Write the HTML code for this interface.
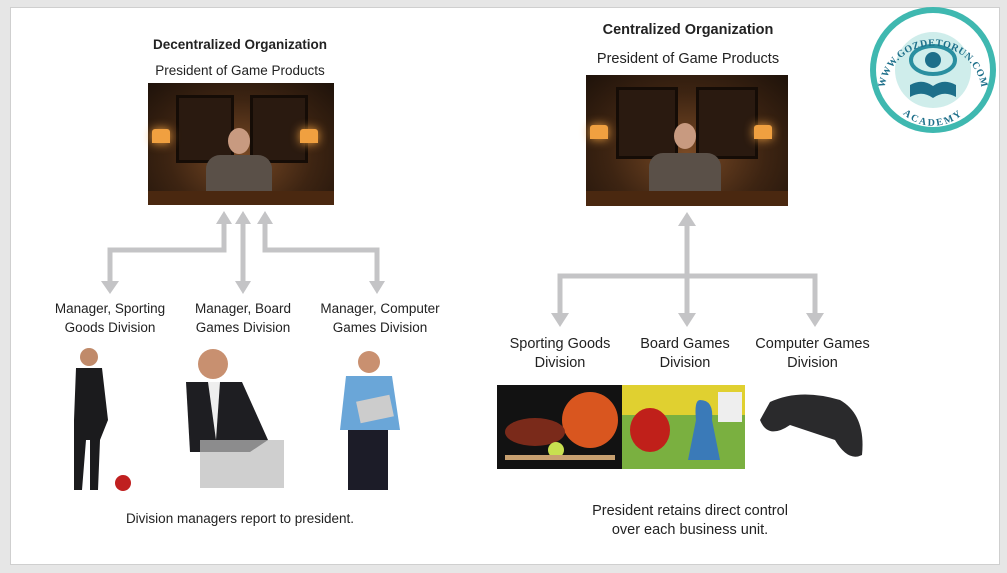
<!DOCTYPE html>
<html><head><style>
body{margin:0;width:1007px;height:573px;background:#e6e6e6;position:relative;overflow:hidden;font-family:"Liberation Sans",sans-serif;}
.panel{position:absolute;left:10px;top:7px;width:988px;height:556px;background:#fff;border:1px solid #cfcfcf;}
.t{position:absolute;color:#222;font-size:13.5px;text-align:center;line-height:19px;}
.b{font-weight:bold;}
.photo{position:absolute;background:radial-gradient(ellipse at 50% 60%,#7a4a25 0%,#3d2412 55%,#1e120a 100%);}
.frame{position:absolute;background:#2a1a10;border:3px solid #150c06;}
.lamp{position:absolute;width:18px;height:14px;background:#f0a040;border-radius:3px 3px 0 0;box-shadow:0 0 10px #f0a040;}
.face{position:absolute;width:22px;height:26px;border-radius:50%;background:#c89a80;}
.body{position:absolute;background:#5a5048;border-radius:14px 14px 0 0;}
</style></head><body>
<div class="panel"></div>

<div class="t b" style="left:140px;top:35px;width:200px;">Decentralized Organization</div>
<div class="t" style="left:140px;top:61px;width:200px;">President of Game Products</div>
<div class="t b" style="left:578px;top:21px;width:220px;font-size:14.5px;">Centralized Organization</div>
<div class="t" style="left:578px;top:50px;width:220px;font-size:14.5px;">President of Game Products</div>

<div class="photo" style="left:148px;top:83px;width:186px;height:122px;">
 <div class="frame" style="left:28px;top:12px;width:52px;height:62px;"></div>
 <div class="frame" style="left:102px;top:12px;width:52px;height:62px;"></div>
 <div class="lamp" style="left:4px;top:46px;"></div><div class="lamp" style="left:152px;top:46px;"></div>
 <div class="face" style="left:80px;top:45px;"></div>
 <div class="body" style="left:58px;top:72px;width:66px;height:40px;"></div>
 <div style="position:absolute;left:0;top:108px;width:186px;height:14px;background:#4a2810;"></div>
</div>
<div class="photo" style="left:586px;top:75px;width:202px;height:131px;">
 <div class="frame" style="left:30px;top:12px;width:56px;height:66px;"></div>
 <div class="frame" style="left:110px;top:12px;width:56px;height:66px;"></div>
 <div class="lamp" style="left:4px;top:50px;"></div><div class="lamp" style="left:168px;top:50px;"></div>
 <div class="face" style="left:88px;top:48px;"></div>
 <div class="body" style="left:63px;top:78px;width:72px;height:42px;"></div>
 <div style="position:absolute;left:0;top:116px;width:202px;height:15px;background:#4a2810;"></div>
</div>

<svg style="position:absolute;left:0;top:0" width="1007" height="573">
 <defs>
  <path id="arcTop" d="M885,85 A49,49 0 0 1 981,85"/>
  <path id="arcBot" d="M893,100 A44,44 0 0 0 973,100"/>
 </defs>
 <g fill="none" stroke="#c4c4c6" stroke-width="5">
  <polyline points="224,222 224,250 110,250 110,285"/>
  <line x1="243" y1="222" x2="243" y2="284"/>
  <polyline points="265,222 265,250 377,250 377,285"/>
  <line x1="687" y1="222" x2="687" y2="318"/>
  <polyline points="560,318 560,276 815,276 815,318"/>
 </g>
 <g fill="#c4c4c6">
  <polygon points="216,224 224,211 232,224"/><polygon points="235,224 243,211 251,224"/><polygon points="257,224 265,211 273,224"/>
  <polygon points="101,281 110,294 119,281"/><polygon points="235,281 243,294 251,281"/><polygon points="369,281 377,294 385,281"/>
  <polygon points="678,226 687,212 696,226"/>
  <polygon points="551,313 560,327 569,313"/><polygon points="678,313 687,327 696,313"/><polygon points="806,313 815,327 824,313"/>
 </g>
 <g>
  <circle cx="89" cy="357" r="9" fill="#c08a6a"/>
  <path d="M76,368 L102,368 L108,420 L100,440 L98,490 L90,490 L90,440 L86,440 L82,490 L74,490 L74,420 Z" fill="#1b1b1d"/>
  <circle cx="123" cy="483" r="8" fill="#c02020"/>
  <circle cx="213" cy="364" r="15" fill="#c89070"/>
  <path d="M186,382 L242,382 L268,440 L250,452 L190,452 Z" fill="#1e1e22"/>
  <path d="M208,382 L220,382 L216,440 Z" fill="#eee"/>
  <rect x="200" y="440" width="84" height="48" fill="#bbb" opacity=".7"/>
  <circle cx="369" cy="362" r="11" fill="#c99070"/>
  <path d="M346,376 L392,376 L400,430 L340,430 Z" fill="#6aa6d8"/>
  <rect x="358" y="398" width="34" height="22" fill="#ccc" transform="rotate(-12 375 409)"/>
  <rect x="348" y="430" width="40" height="60" fill="#1c1c28"/>
 </g>
 <rect x="497" y="385" width="125" height="84" fill="#121212"/>
 <circle cx="590" cy="420" r="28" fill="#d9561f"/>
 <ellipse cx="535" cy="432" rx="30" ry="14" fill="#7a2a1a"/>
 <circle cx="556" cy="450" r="8" fill="#c8e050"/>
 <rect x="505" y="455" width="110" height="5" fill="#c8a070"/>
 <rect x="622" y="385" width="123" height="84" fill="#7ab040"/>
 <rect x="622" y="385" width="123" height="30" fill="#e0d030"/>
 <ellipse cx="650" cy="430" rx="20" ry="22" fill="#c0201a"/>
 <path d="M700,400 Q714,400 712,420 L720,460 L688,460 L696,420 Q694,400 700,400Z" fill="#3a7ab8"/>
 <rect x="718" y="392" width="24" height="30" fill="#eee"/>
 <path d="M770,402 Q800,388 840,400 Q866,415 862,455 Q848,462 835,440 L790,425 Q768,440 760,420 Z" fill="#2a2a2c"/>
 <circle cx="933" cy="70" r="63" fill="#3fb8b0"/>
 <circle cx="933" cy="70" r="57" fill="#fff"/>
 <circle cx="933" cy="70" r="38" fill="#3fb8b0" opacity=".25"/>
 <ellipse cx="933" cy="60" rx="22" ry="14" fill="none" stroke="#2a8fa0" stroke-width="4"/>
 <circle cx="933" cy="60" r="8" fill="#1d6f8a"/>
 <path d="M910,85 Q922,78 933,86 Q944,78 956,85 L956,97 Q944,90 933,98 Q922,90 910,97 Z" fill="#1d6f8a"/>
 <text font-family="Liberation Serif" font-size="10" font-weight="bold" fill="#1d6f8a" letter-spacing="0.5"><textPath href="#arcTop" startOffset="50%" text-anchor="middle">WWW.GOZDETORUN.COM</textPath></text>
 <text font-family="Liberation Serif" font-size="10" font-weight="bold" fill="#1d6f8a" letter-spacing="2"><textPath href="#arcBot" startOffset="50%" text-anchor="middle">ACADEMY</textPath></text>
</svg>

<div class="t" style="left:40px;top:299px;width:140px;">Manager, Sporting<br>Goods Division</div>
<div class="t" style="left:173px;top:299px;width:140px;">Manager, Board<br>Games Division</div>
<div class="t" style="left:300px;top:299px;width:160px;">Manager, Computer<br>Games Division</div>
<div class="t" style="left:100px;top:509px;width:280px;">Division managers report to president.</div>

<div class="t" style="left:495px;top:335px;width:130px;font-size:14.5px;">Sporting Goods<br>Division</div>
<div class="t" style="left:625px;top:335px;width:120px;font-size:14.5px;">Board Games<br>Division</div>
<div class="t" style="left:745px;top:335px;width:135px;font-size:14.5px;">Computer Games<br>Division</div>
<div class="t" style="left:560px;top:502px;width:260px;font-size:14.5px;">President retains direct control<br>over each business unit.</div>
</body></html>
